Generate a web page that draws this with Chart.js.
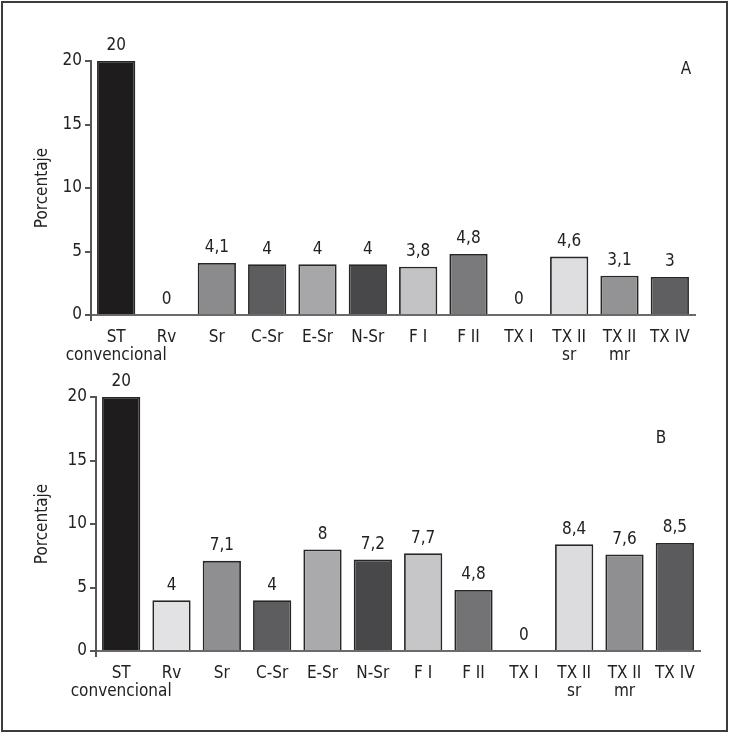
<!DOCTYPE html>
<html>
<head>
<meta charset="utf-8">
<script src="https://cdn.jsdelivr.net/npm/chart.js@4"></script>
<style>
  html, body { margin:0; padding:0; background:#fff; }
  #wrap { position:relative; width:730px; height:733px; overflow:hidden; }
  #frame { position:absolute; left:1px; top:1px; width:727px; height:731px; box-sizing:border-box; border:2px solid #3c3c3c; pointer-events:none; }
  #boxA { position:absolute; left:0; top:0; width:730px; height:366px; }
  #boxB { position:absolute; left:0; top:366px; width:730px; height:367px; }
</style>
</head>
<body>
<div id="wrap">
  <div id="boxA"><canvas id="chartA"></canvas></div>
  <div id="boxB"><canvas id="chartB"></canvas></div>
  <div id="frame"></div>
</div>
<script>
const categories = [["ST","convencional"], "Rv", "Sr", "C-Sr", "E-Sr", "N-Sr", "F I", "F II", "TX I", ["TX II","sr"], ["TX II","mr"], "TX IV"];
const valuesA = [20, 0, 4.1, 4, 4, 4, 3.8, 4.8, 0, 4.6, 3.1, 3];
const valuesB = [20, 4, 7.1, 4, 8, 7.2, 7.7, 4.8, 0, 8.4, 7.6, 8.5];
const colorsA = ["#1e1c1d", "#ffffff", "#8b8b8d", "#5d5d5f", "#a7a7a9", "#48484a", "#c3c3c5", "#7a7a7c", "#ffffff", "#dedee0", "#939395", "#5f5f61"];
const colorsB = ["#1e1c1d", "#e2e2e4", "#8f8f91", "#5d5d5f", "#aaaaac", "#48484a", "#c6c6c8", "#737375", "#ffffff", "#dcdcde", "#8f8f91", "#5b5b5d"];
const yTicks = [0, 5, 10, 15, 20];

const FONT = '"Liberation Sans Narrow", "DejaVu Sans Condensed", "Arial Narrow", sans-serif';

const labelPlugin = {
  id: 'valLabels',
  afterDatasetsDraw(chart, args, opts) {
    const ctx = chart.ctx;
    const meta = chart.getDatasetMeta(0);
    const data = chart.data.datasets[0].data;
    const area = chart.chartArea;
    ctx.save();
    // y axis extension below the zero line
    ctx.strokeStyle = '#555';
    ctx.lineWidth = 2;
    ctx.beginPath();
    ctx.moveTo(area.left, area.bottom);
    ctx.lineTo(area.left, area.bottom + 6);
    ctx.stroke();
    ctx.fillStyle = '#222';
    ctx.font = '17px ' + FONT;
    ctx.textAlign = 'center';
    ctx.textBaseline = 'middle';
    meta.data.forEach((bar, i) => {
      const txt = String(data[i]).replace('.', ',');
      ctx.fillText(txt, bar.x, bar.y - 15);
    });
    ctx.fillText(opts.letter, opts.lx, opts.ly);
    ctx.restore();
  }
};

function makeChart(id, values, colors, cfg) {
  return new Chart(document.getElementById(id), {
    type: 'bar',
    data: {
      labels: categories,
      datasets: [{
        data: values,
        backgroundColor: colors,
        borderColor: '#262626',
        borderWidth: (c) => (c.raw === 0 ? 0 : 1.8),
        barPercentage: 0.76,
        categoryPercentage: 1.0
      }]
    },
    options: {
      responsive: true,
      maintainAspectRatio: false,
      animation: false,
      layout: { padding: { left: 30, right: cfg.right, top: cfg.top, bottom: 0 } },
      plugins: {
        legend: { display: false },
        tooltip: { enabled: false },
        valLabels: { letter: cfg.letter, lx: cfg.lx, ly: cfg.ly }
      },
      scales: {
        x: {
          offset: true,
          grid: {
            offset: true,
            drawOnChartArea: false,
            drawTicks: true,
            tickLength: 6,
            lineWidth: 2,
            color: (c) => (c.index === categories.length ? '#666' : 'rgba(0,0,0,0)')
          },
          border: { display: true, color: '#6a6a6a', width: 2 },
          ticks: {
            color: '#222',
            font: { family: FONT, size: 17, lineHeight: 1.1 },
            padding: 7,
            maxRotation: 0,
            autoSkip: false
          },
          afterFit: (s) => { s.height = cfg.xh; }
        },
        y: {
          min: 0, max: 20,
          afterBuildTicks: (s) => { s.ticks = yTicks.map(v => ({ value: v })); },
          grid: {
            drawOnChartArea: false,
            drawTicks: true,
            tickLength: 6,
            lineWidth: 2,
            color: '#555'
          },
          border: { display: true, color: '#555', width: 2 },
          ticks: {
            color: '#222',
            font: { family: FONT, size: 17 },
            padding: 3
          },
          title: {
            display: true,
            text: 'Porcentaje',
            color: '#222',
            font: { family: FONT, size: 17 },
            padding: { top: 2, bottom: 2 }
          },
          afterFit: (s) => { s.width = cfg.yw; }
        }
      }
    },
    plugins: [labelPlugin]
  });
}

makeChart('chartA', valuesA, colorsA, { right: 35, top: 61, xh: 51, yw: 61, letter: 'A', lx: 686, ly: 70 });
makeChart('chartB', valuesB, colorsB, { right: 30, top: 31, xh: 82, yw: 66, letter: 'B', lx: 661, ly: 73 });
</script>
</body>
</html>
